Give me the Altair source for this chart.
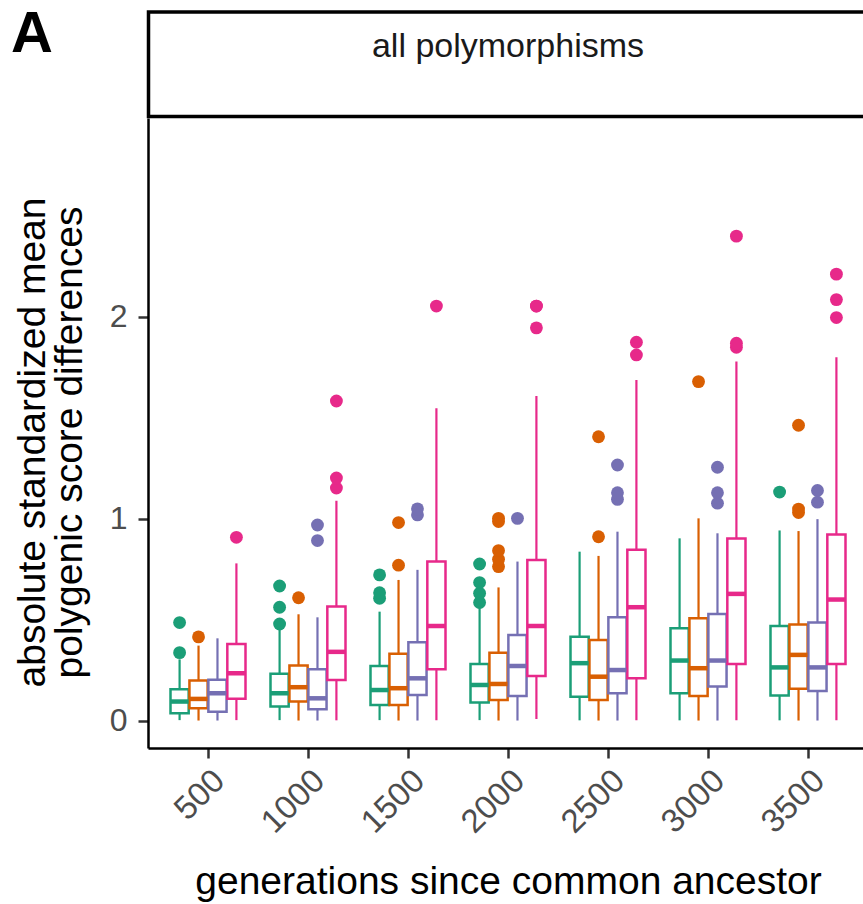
import altair as alt
import pandas as pd

# ---------------- data ----------------
gens = [500, 1000, 1500, 2000, 2500, 3000, 3500]
groups = ["set 1", "set 2", "set 3", "set 4"]
colors = ["#1B9E77", "#D95F02", "#7570B3", "#E7298A"]

# box statistics per group, one value per generation (lower whisker, q1, median, q3, upper whisker)
lower = {
    "set 1": [0.004, 0.004, 0.004, 0.004, 0.003, 0.003, 0.003],
    "set 2": [0.002, 0.002, 0.002, 0.002, 0.002, 0.002, 0.002],
    "set 3": [0.002, 0.002, 0.002, 0.002, 0.002, 0.002, 0.002],
    "set 4": [0.004, 0.003, 0.003, 0.01, 0.003, 0.003, 0.003],
}
q1 = {
    "set 1": [0.038, 0.071, 0.079, 0.091, 0.120, 0.137, 0.126],
    "set 2": [0.063, 0.096, 0.079, 0.104, 0.104, 0.124, 0.159],
    "set 3": [0.046, 0.058, 0.129, 0.124, 0.137, 0.170, 0.148],
    "set 4": [0.110, 0.203, 0.256, 0.223, 0.211, 0.282, 0.282],
}
median = {
    "set 1": [0.096, 0.137, 0.153, 0.178, 0.286, 0.299, 0.265],
    "set 2": [0.109, 0.167, 0.162, 0.183, 0.219, 0.261, 0.327],
    "set 3": [0.137, 0.112, 0.211, 0.272, 0.252, 0.299, 0.265],
    "set 4": [0.236, 0.342, 0.470, 0.470, 0.563, 0.629, 0.601],
}
q3 = {
    "set 1": [0.157, 0.233, 0.272, 0.282, 0.417, 0.459, 0.470],
    "set 2": [0.200, 0.274, 0.332, 0.338, 0.401, 0.508, 0.478],
    "set 3": [0.204, 0.256, 0.390, 0.426, 0.513, 0.530, 0.487],
    "set 4": [0.381, 0.566, 0.789, 0.797, 0.847, 0.903, 0.923],
}
upper = {
    "set 1": [0.305, 0.467, 0.541, 0.566, 0.838, 0.904, 0.943],
    "set 2": [0.373, 0.528, 0.698, 0.661, 0.817, 1.003, 0.940],
    "set 3": [0.409, 0.513, 0.748, 0.789, 0.937, 0.929, 0.999],
    "set 4": [0.780, 1.090, 1.548, 1.609, 1.688, 1.779, 1.800],
}

# outliers
out_gen = (
    [500, 500, 500, 500]
    + [1000] * 9
    + [1500] * 8
    + [2000] * 13
    + [2500] * 7
    + [3000] * 7
    + [3500] * 9
)
out_group = (
    ["set 1", "set 1", "set 2", "set 4"]
    + ["set 1", "set 1", "set 1", "set 2", "set 3", "set 3", "set 4", "set 4", "set 4"]
    + ["set 1", "set 1", "set 1", "set 2", "set 2", "set 3", "set 3", "set 4"]
    + ["set 1", "set 1", "set 1", "set 1", "set 2", "set 2", "set 2", "set 2", "set 2",
       "set 3", "set 4", "set 4", "set 4"]
    + ["set 2", "set 2", "set 3", "set 3", "set 3", "set 4", "set 4"]
    + ["set 2", "set 3", "set 3", "set 3", "set 4", "set 4", "set 4"]
    + ["set 1", "set 2", "set 2", "set 2", "set 3", "set 3", "set 4", "set 4", "set 4"]
)
out_value = (
    [0.338, 0.487, 0.416, 0.909]
    + [0.480, 0.563, 0.668, 0.610, 0.893, 0.970, 1.153, 1.203, 1.584]
    + [0.607, 0.635, 0.723, 0.771, 0.982, 1.020, 1.050, 2.054]
    + [0.586, 0.632, 0.685, 0.777, 0.764, 0.800, 0.843, 0.987, 1.003,
       1.003, 1.946, 2.054, 2.054]
    + [0.912, 1.407, 1.097, 1.130, 1.267, 1.812, 1.875]
    + [1.680, 1.078, 1.130, 1.256, 1.850, 1.870, 2.400]
    + [1.133, 1.032, 1.049, 1.464, 1.083, 1.141, 1.997, 2.086, 2.212]
)

strip_label = ["all polymorphisms"]
tag_label = ["A"]
x_title = "generations since common ancestor"
y_title = ["absolute standardized mean", "polygenic score differences"]
y_ticks = [0, 1, 2]

# ---------------- tables ----------------
rows = []
for g in groups:
    for i, gen in enumerate(gens):
        rows.append(dict(gen=gen, group=g, lower=lower[g][i], q1=q1[g][i],
                         median=median[g][i], q3=q3[g][i], upper=upper[g][i]))
box_df = pd.DataFrame(rows)
out_df = pd.DataFrame({"gen": out_gen, "group": out_group, "value": out_value})

FONT = "Liberation Sans"

xscale = alt.Scale(domain=gens, range=[0, 720], paddingInner=0.25, paddingOuter=0.225)
yscale = alt.Scale(domain=[-0.134, 2.985], nice=False, zero=False)
cscale = alt.Scale(domain=groups, range=colors)

xaxis = alt.Axis(labelAngle=315, labelAlign="right", labelBaseline="top", labelPadding=6,
                 labelFontSize=33,
                 titleX=360, titleY=145, titleAlign="center", titleBaseline="alphabetic")
yaxis = alt.Axis(values=y_ticks, labelPadding=11, labelFontSize=32, titleAngle=270, titleX=-104,
                 titleY=324, titleAlign="center", titleBaseline="alphabetic", titleLineHeight=37)


def X():
    return alt.X("gen:O", scale=xscale, axis=xaxis, title=x_title)


def XO():
    return alt.XOffset("group:N", scale=alt.Scale(domain=groups, paddingInner=0.04, paddingOuter=0))


def Y(field):
    return alt.Y(f"{field}:Q", scale=yscale, axis=yaxis, title=y_title)


base = alt.Chart(box_df)

whiskers = base.mark_rule(strokeWidth=2.2, opacity=1).encode(
    x=X(), xOffset=XO(), y=Y("lower"), y2="upper:Q",
    color=alt.Color("group:N", scale=cscale, legend=None),
)
boxes = base.mark_bar(fill="white", strokeWidth=2.5, opacity=1).encode(
    x=X(), xOffset=XO(), y=Y("q1"), y2="q3:Q",
    stroke=alt.Stroke("group:N", scale=cscale, legend=None),
)
medians = base.mark_tick(thickness=4.5, size=18, orient="horizontal", opacity=1).encode(
    x=X(), xOffset=XO(), y=Y("median"),
    color=alt.Color("group:N", scale=cscale, legend=None),
)
outliers = alt.Chart(out_df).mark_circle(size=165, opacity=1).encode(
    x=X(), xOffset=XO(), y=Y("value"),
    color=alt.Color("group:N", scale=cscale, legend=None),
)

strip_df = pd.DataFrame({"label": strip_label})
strip_rect = alt.Chart(strip_df).mark_rect(fill="white", stroke="black", strokeWidth=3.5).encode(
    x=alt.value(0.5), x2=alt.value(720), y=alt.value(-106), y2=alt.value(-1.5)
)
strip_text = alt.Chart(strip_df).mark_text(
    font=FONT, fontSize=34, align="center", baseline="alphabetic", color="#1a1a1a"
).encode(x=alt.value(360), y=alt.value(-61), text="label:N")

tag_df = pd.DataFrame({"label": tag_label})
tag = alt.Chart(tag_df).mark_text(
    font=FONT, fontSize=58, fontWeight="bold", align="left", baseline="alphabetic", color="black"
).encode(x=alt.value(-137), y=alt.value(-66), text="label:N")

chart = alt.layer(strip_rect, strip_text, tag, whiskers, boxes, medians, outliers).properties(
    width=715,
    height=630,
    autosize=alt.AutoSizeParams(type="none"),
    padding={"left": 148, "top": 118, "right": 0, "bottom": 154},
    background="white",
).configure_view(stroke=None).configure_axis(
    grid=False,
    domainColor="black",
    domainWidth=2.5,
    tickColor="#333333",
    tickWidth=2.5,
    tickSize=10,
    labelColor="#4d4d4d",
    labelFont=FONT,
    labelFontSize=31,
    titleFont=FONT,
    titleFontSize=39,
    titleFontWeight="normal",
    titleColor="black",
)

chart.save("out.html", embed_options={"renderer": "svg", "actions": False})
